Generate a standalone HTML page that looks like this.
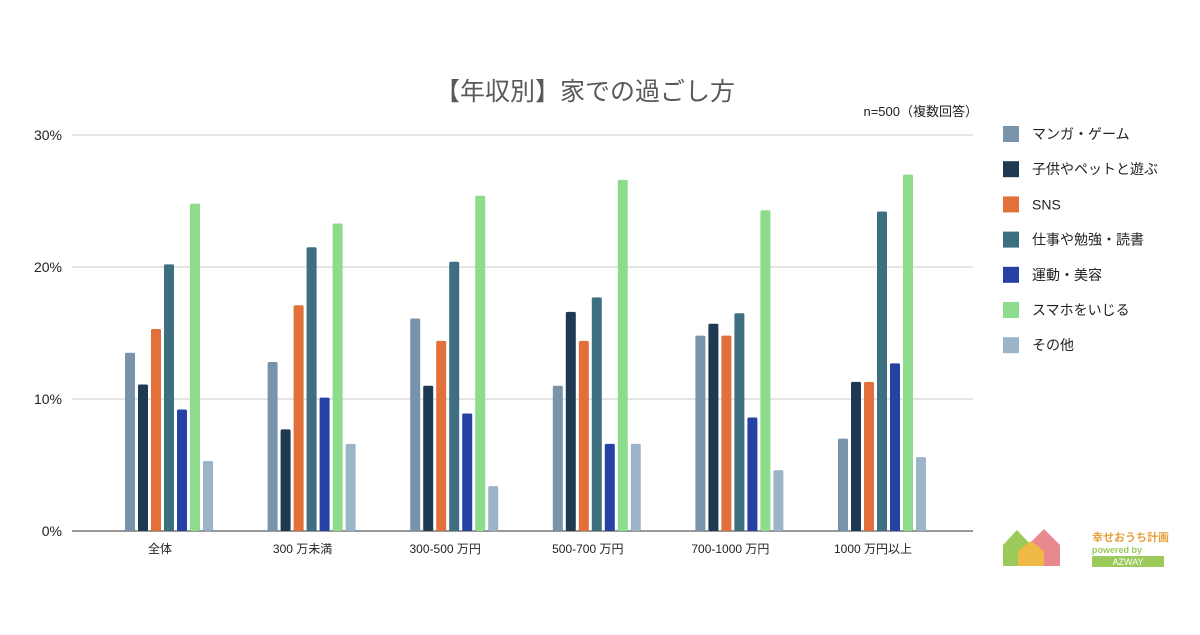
<!DOCTYPE html>
<html><head><meta charset="utf-8"><style>
body{margin:0;width:1200px;height:630px;background:#fff;overflow:hidden;font-family:"Liberation Sans","Noto Sans CJK JP",sans-serif}
</style></head><body>
<svg width="1200" height="630" id="c" xmlns="http://www.w3.org/2000/svg"></svg>
<script>
const categories=["全体","300 万未満","300-500 万円","500-700 万円","700-1000 万円","1000 万円以上"];
const seriesNames=["マンガ・ゲーム","子供やペットと遊ぶ","SNS","仕事や勉強・読書","運動・美容","スマホをいじる","その他"];
const manga=[13.5,12.8,16.1,11.0,14.8,7.0];
const kids=[11.1,7.7,11.0,16.6,15.7,11.3];
const sns=[15.3,17.1,14.4,14.4,14.8,11.3];
const work=[20.2,21.5,20.4,17.7,16.5,24.2];
const sport=[9.2,10.1,8.9,6.6,8.6,12.7];
const phone=[24.8,23.3,25.4,26.6,24.3,27.0];
const other=[5.3,6.6,3.4,6.6,4.6,5.6];
const yTicks=[0,10,20,30];
const series=[manga,kids,sns,work,sport,phone,other];
const colors=["#7893aa","#1e3a53","#e2703a","#3e6f80","#2441a3","#8cdc8c","#9bb4c7"];
const NS="http://www.w3.org/2000/svg",svg=document.getElementById('c');
function y(v){return 531-v*13.2;}
function gx(i){return 160+i*142.6;}
function mk(t,a,txt){const e=document.createElementNS(NS,t);for(const k in a)e.setAttribute(k,a[k]);if(txt!==undefined)e.textContent=txt;svg.appendChild(e);return e;}
let e=mk('text',{x:585,y:100,'font-size':25,fill:'#595959','text-anchor':'middle'},'【年収別】家での過ごし方');

e=mk('text',{x:978,y:116,'font-size':13,fill:'#222','text-anchor':'end'},'n=500（複数回答）');

yTicks.forEach(t=>{
 let l=mk('line',{x1:72,x2:973,y1:y(t),y2:y(t),stroke:t===0?'#333':'#c8c8c8','stroke-width':1});
 
 let tx=mk('text',{x:62,y:y(t)+5,'font-size':14,fill:'#222','text-anchor':'end'},t+'%');
 
});
categories.forEach((c,i)=>{
 let tx=mk('text',{x:gx(i),y:553,'font-size':12,fill:'#222','text-anchor':'middle'},c);
 
 series.forEach((s,j)=>{
  let r=mk('rect',{x:gx(i)-35+j*13,y:y(s[i]),width:10,height:s[i]*13.2,fill:colors[j],rx:1.5});
  
 });
});
seriesNames.forEach((n,j)=>{
 const cy=134+j*35.2;
 let r=mk('rect',{x:1003,y:cy-8,width:16,height:16,fill:colors[j]});
 
 let tx=mk('text',{x:1032,y:cy+5,'font-size':14,fill:'#222'},n);
 
});
let g=mk('g',{});
[['#9bc95a','1003,545 1017,530 1031,545 1031,566 1003,566'],['#e8888f','1028,545 1044,529 1060,545 1060,566 1028,566'],['#f0b844','1018,551 1031,541 1044,551 1044,566 1018,566']].forEach(p=>{const q=document.createElementNS(NS,'polygon');q.setAttribute('points',p[1]);q.setAttribute('fill',p[0]);g.appendChild(q);});
e=mk('text',{x:1092,y:541,'font-size':11,'font-weight':'bold',fill:'#e8a03c'},'幸せおうち計画');

e=mk('text',{x:1092,y:553,'font-size':9,'font-weight':'bold',fill:'#9bc95a'},'powered by');

e=mk('rect',{x:1092,y:556,width:72,height:11,fill:'#9bc95a'});

e=mk('text',{x:1128,y:565,'font-size':9,fill:'#fff','text-anchor':'middle'},'AZWAY');

</script>
</body></html>
